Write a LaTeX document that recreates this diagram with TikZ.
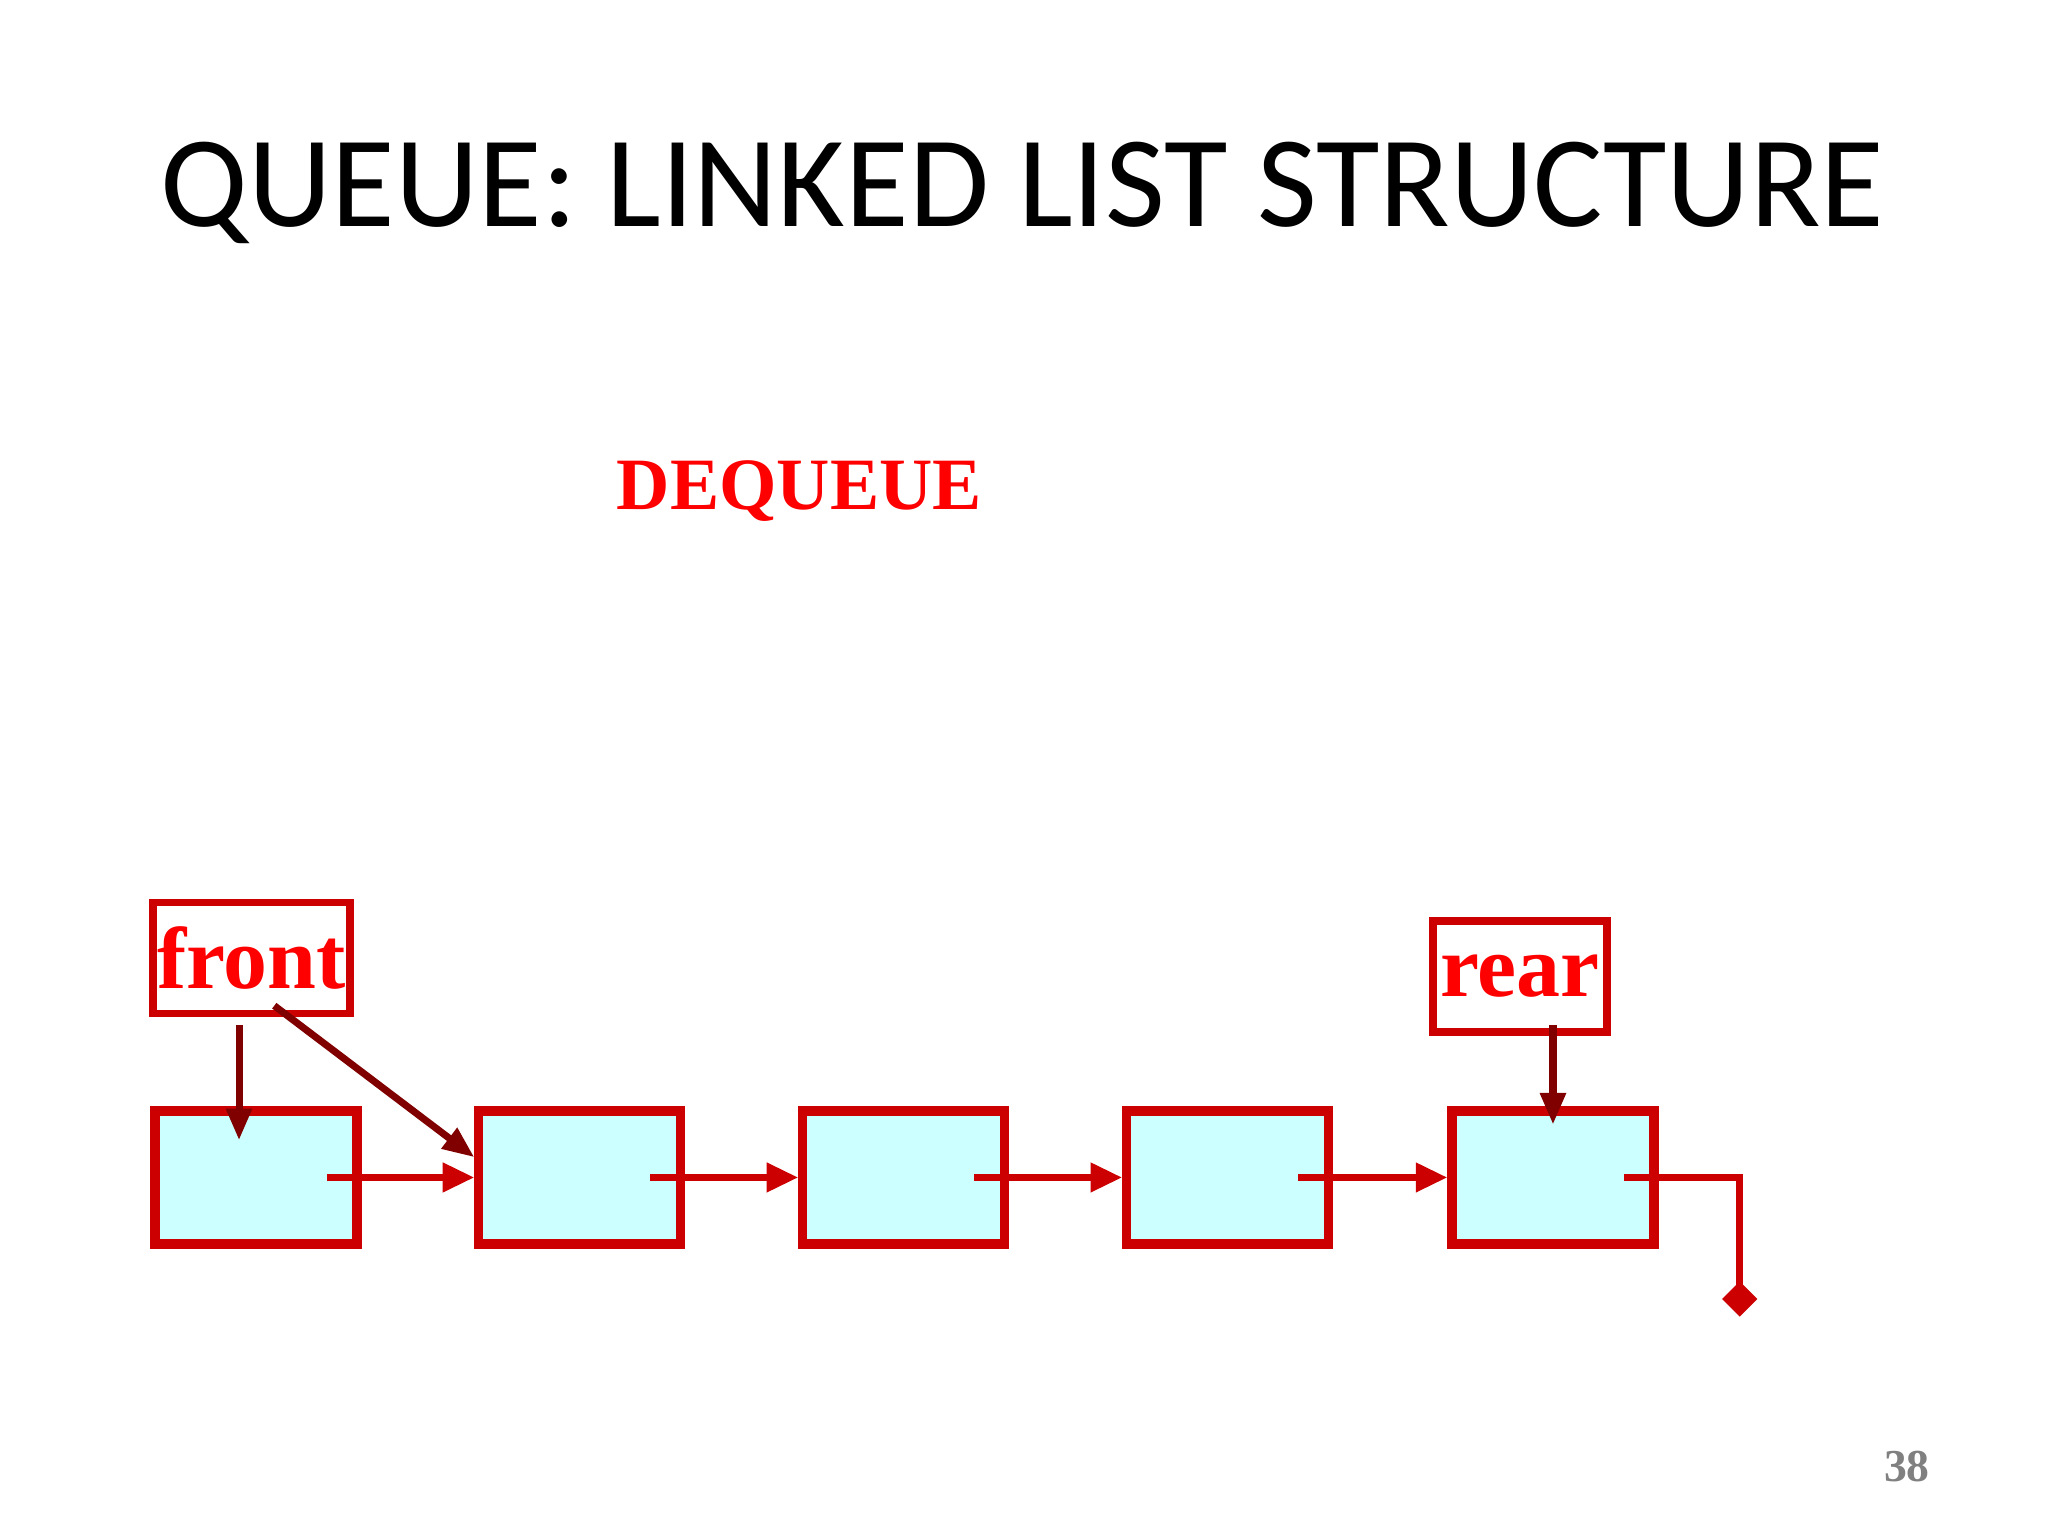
\documentclass[tikz,border=0pt]{standalone}
\usepackage{fontspec}
\setmainfont{Liberation Serif}
\newfontfamily\titlefont{Carlito}
\usetikzlibrary{arrows.meta}
\definecolor{boxred}{HTML}{CC0000}
\definecolor{ptrred}{HTML}{800000}
\definecolor{cellfill}{HTML}{CCFFFF}

\begin{document}
\begin{tikzpicture}[x=0.01306cm,y=-0.01306cm]
		\tikzset{cell/.style={draw=boxred,line width=2.6pt,fill=cellfill,minimum width=2.02cm,minimum height=1.33cm,inner sep=0pt}}
		\tikzset{ptrbox/.style={draw=boxred,line width=2.2pt,text=red,font=\bfseries\fontsize{25}{25}\selectfont,inner sep=0pt}}
		\tikzset{link/.style={boxred,line width=2pt,-{Triangle[length=9pt,width=8pt]}}}
		\tikzset{ptr/.style={ptrred,line width=2pt,-{Triangle[length=9pt,width=7pt]}}}
		\useasboundingbox (0,0) rectangle (1568,1176);
		
		\node[font=\titlefont\fontsize{37}{37}\selectfont](title) at (783,148) {QUEUE: LINKED LIST STRUCTURE};
		\node[text=red,font=\bfseries\fontsize{21}{21}\selectfont](op) at (612,376) {DEQUEUE};
		
		\node[ptrbox,minimum width=1.97cm,minimum height=1.11cm](front) at (192.5,733.5) {front};
		\node[ptrbox,minimum width=1.74cm,minimum height=1.11cm](rear) at (1163.5,747.5) {rear};
		
		\foreach \i/\x in {1/196,2/444,3/692,4/940,5/1189}
			\node[cell](n\i) at (\x,901.5) {};
		
		\foreach \i/\j in {1/2,2/3,3/4,4/5}
			\draw[link] ([xshift=-0.35cm]n\i.east) -- (n\j.west);
		
		\coordinate (nil) at (1332,1008);
		\draw[boxred,line width=2pt,-{Diamond[length=10pt,width=10pt]}] ([xshift=-0.35cm]n5.east) -| (nil);
		
		\draw[ptr] (183,785) -- (183,873);
		\draw[ptr] (210,770) -- (n2.west |- 0,886);
		\draw[ptr] (1189,785) -- (1189,861);
		
		\node[text=gray,font=\bfseries\fontsize{13}{13}\selectfont](page) at (1460,1123) {38};
		\end{tikzpicture}
\end{document}
